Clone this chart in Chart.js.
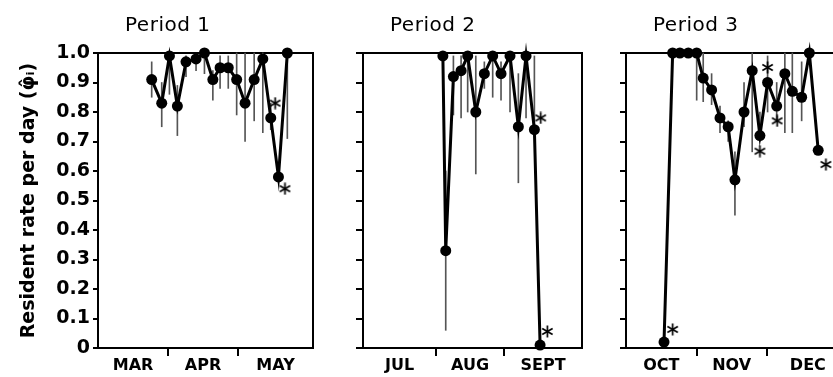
<!DOCTYPE html>
<html>
<head>
<meta charset="utf-8">
<script src="https://cdn.jsdelivr.net/npm/chart.js@4.4.0/dist/chart.umd.min.js"></script>
<style>
  html, body { margin: 0; padding: 0; background: #fff; }
  body { width: 833px; height: 377px; overflow: hidden; position: relative; }
  canvas { position: absolute; top: 0; }
</style>
</head>
<body>
<canvas id="p1" width="330" height="377" style="left:0px"></canvas>
<canvas id="p2" width="262" height="377" style="left:330px"></canvas>
<canvas id="p3" width="270" height="377" style="left:590px"></canvas>
<script>
// y axis, shared by the three panels
var yTicks = [0, 0.1, 0.2, 0.3, 0.4, 0.5, 0.6, 0.7, 0.8, 0.9, 1.0];
var yLabels = ["0", "0.1", "0.2", "0.3", "0.4", "0.5", "0.6", "0.7", "0.8", "0.9", "1.0"];

// Period 1 (days counted from 1 March)
var months1 = ["MAR", "APR", "MAY"];
var days1 = [24, 28.3, 31.6, 35, 38.7, 43, 46.6, 50.2, 53.3, 56.8, 60.4, 64, 67.9, 71.6, 75, 78.3, 82.1];
var rate1 = [0.91, 0.83, 0.99, 0.82, 0.97, 0.98, 1.0, 0.91, 0.95, 0.95, 0.91, 0.83, 0.91, 0.98, 0.78, 0.58, 1.0];
var low1 = [0.85, 0.75, 0.86, 0.72, 0.92, 0.94, 0.93, 0.84, 0.88, 0.88, 0.79, 0.70, 0.77, 0.73, 0.74, null, 0.71];
var high1 = [0.97, 0.90, 1.0, 0.89, 0.99, 0.99, 1.0, 0.94, 0.99, 0.99, 1.0, 1.0, 1.0, 1.0, 0.83, null, 1.0];
var starDays1 = [76.9, 81.1];
var starRate1 = [0.83, 0.54];

// Period 2 (days counted from 1 July)
var months2 = ["JUL", "AUG", "SEPT"];
var days2 = [34.1, 35.4, 38.9, 42.4, 45.4, 49.1, 53.0, 56.8, 60.6, 64.7, 68.5, 72.0, 75.8, 78.4];
var rate2 = [0.99, 0.33, 0.92, 0.94, 0.99, 0.80, 0.93, 0.99, 0.93, 0.99, 0.75, 0.99, 0.74, 0.01];
var low2 = [null, 0.06, 0.79, 0.78, 0.80, 0.59, 0.88, 0.85, 0.84, 0.80, 0.56, 0.78, 0.74, null];
var high2 = [null, 0.60, 0.99, 0.99, 0.99, 0.99, 0.97, 0.99, 0.97, 0.99, 0.93, 0.99, 0.99, null];
var starDays2 = [78.7, 81.7];
var starRate2 = [0.78, 0.056];

// Period 3 (days counted from 1 October)
var months3 = ["OCT", "NOV", "DEC"];
var days3 = [17.0, 20.7, 23.8, 27.4, 31.0, 33.8, 37.4, 41.0, 44.5, 47.4, 51.3, 54.8, 58.1, 61.4, 65.3, 68.8, 72.0, 76.0, 79.3, 83.1];
var rate3 = [0.02, 1.0, 1.0, 1.0, 1.0, 0.915, 0.875, 0.78, 0.75, 0.57, 0.80, 0.94, 0.72, 0.90, 0.82, 0.93, 0.87, 0.85, 1.0, 0.67];
var low3 = [null, null, null, null, 0.84, 0.835, 0.825, 0.73, 0.70, 0.45, 0.75, 0.665, 0.70, 0.80, 0.77, 0.73, 0.73, 0.77, null, null];
var high3 = [null, null, null, null, 0.99, 1.0, 0.93, 0.82, 0.77, 0.665, 0.90, 1.0, 0.80, 0.99, 0.90, 1.0, 1.0, 0.97, null, null];
var starDays3 = [20.7, 58.1, 61.4, 65.5, 86.4];
var starRate3 = [0.063, 0.667, 0.951, 0.77, 0.622];

Chart.defaults.font.family = "'DejaVu Sans', sans-serif";
Chart.defaults.color = "#000";

function noPad(s) {
  s.paddingTop = 0; s.paddingBottom = 0; s.paddingLeft = 0; s.paddingRight = 0;
}

function makeStar() {
  var c = document.createElement("canvas");
  c.width = 13; c.height = 13;
  var g = c.getContext("2d");
  g.strokeStyle = "#000";
  g.lineWidth = 1.7;
  for (var k = 0; k < 3; k++) {
    var a = Math.PI / 2 + k * Math.PI / 3;
    g.beginPath();
    g.moveTo(6.5 + 6 * Math.cos(a), 6.5 - 6 * Math.sin(a));
    g.lineTo(6.5 - 6 * Math.cos(a), 6.5 + 6 * Math.sin(a));
    g.stroke();
  }
  return c;
}
var starImg = makeStar();

var titlePlugin = {
  id: "panelTitle",
  afterDraw: function (chart, args, opts) {
    var ctx = chart.ctx;
    ctx.save();
    ctx.font = "20px 'DejaVu Sans'";
    ctx.letterSpacing = "0.5px";
    ctx.fillStyle = "#000";
    ctx.textBaseline = "alphabetic";
    ctx.fillText(opts.text, chart.chartArea.left + 27, 31);
    ctx.restore();
  }
};

function makePanel(id, p) {
  var edges = [p.xMin].concat(p.bounds).concat([p.xMax]);
  var centers = [];
  for (var i = 0; i < p.months.length; i++) centers.push((edges[i] + edges[i + 1]) / 2);

  var line = p.days.map(function (d, i) { return { x: d, y: p.rate[i] }; });
  var bars = [];
  p.days.forEach(function (d, i) {
    if (p.low[i] != null) bars.push({ x: d, y: [p.low[i], p.high[i]] });
  });
  var stars = p.starDays.map(function (d, i) { return { x: d, y: p.starRate[i] }; });

  return new Chart(document.getElementById(id), {
    type: "line",
    data: {
      datasets: [
        { type: "line", data: line, borderColor: "#000", borderWidth: 3, pointRadius: 5.5, pointHoverRadius: 5.5,
          pointBackgroundColor: "#000", pointBorderWidth: 0, tension: 0, clip: false, order: 1 },
        { type: "bar", data: bars, backgroundColor: "#555", barThickness: 1, clip: false, order: 2 },
        { type: "line", data: stars, showLine: false, pointStyle: starImg, pointRadius: 6, clip: false, order: 0 }
      ]
    },
    options: {
      responsive: false,
      animation: false,
      events: [],
      layout: { padding: { top: 53, right: p.padRight, bottom: 0, left: 0 } },
      plugins: { legend: { display: false }, tooltip: { enabled: false }, panelTitle: { text: p.title } },
      scales: {
        x: {
          type: "linear", position: "bottom", min: p.xMin, max: p.xMax, offset: false, weight: 0, display: true,
          afterBuildTicks: function (s) { s.ticks = p.bounds.map(function (v) { return { value: v }; }); },
          afterFit: function (s) { s.height = 8; noPad(s); },
          ticks: { display: false },
          grid: { drawOnChartArea: false, drawTicks: true, tickLength: 8, color: "#000", lineWidth: 2, offset: false },
          border: { display: true, color: "#000", width: 2 }
        },
        xm: {
          type: "linear", position: "bottom", min: p.xMin, max: p.xMax, offset: false, weight: 1, display: true,
          afterBuildTicks: function (s) { s.ticks = centers.map(function (v) { return { value: v }; }); },
          afterFit: function (s) { s.height = 21; noPad(s); },
          ticks: { autoSkip: false, maxRotation: 0, padding: -8, font: { weight: "bold", size: 16 },
                   callback: function (v, i) { return p.months[i]; } },
          grid: { display: false },
          border: { display: false }
        },
        y: {
          type: "linear", position: "left", min: 0, max: 1, display: true,
          afterBuildTicks: function (s) { s.ticks = yTicks.map(function (v) { return { value: v }; }); },
          afterFit: function (s) { s.width = p.yWidth; noPad(s); },
          ticks: { display: p.showY, padding: 3, font: { weight: "bold", size: 19 },
                   callback: function (v, i) { return yLabels[i]; } },
          grid: { drawOnChartArea: false, drawTicks: true, tickLength: p.tickLen, color: "#000", lineWidth: 2 },
          border: { display: true, color: "#000", width: 2 },
          title: { display: p.showY, text: "Resident rate per day (\u03C6\u0302\u1D62)",
                   font: { weight: "bold", size: 19 }, padding: { top: 18, bottom: 0 } }
        },
        x2: {
          type: "linear", position: "top", min: p.xMin, max: p.xMax, display: true,
          afterFit: function (s) { s.height = 0; noPad(s); },
          ticks: { display: false }, grid: { display: false },
          border: { display: true, color: "#000", width: 2 }
        },
        y2: {
          type: "linear", position: "right", min: 0, max: 1, display: true,
          afterFit: function (s) { s.width = 0; noPad(s); },
          ticks: { display: false }, grid: { display: false },
          border: { display: true, color: "#000", width: 2 }
        }
      }
    },
    plugins: [titlePlugin]
  });
}

makePanel("p1", { title: "Period 1", months: months1, days: days1, rate: rate1, low: low1, high: high1,
  starDays: starDays1, starRate: starRate1, xMin: 1, xMax: 93.1, bounds: [31, 61],
  showY: true, yWidth: 98, tickLen: 5, padRight: 17 });
makePanel("p2", { title: "Period 2", months: months2, days: days2, rate: rate2, low: low2, high: high2,
  starDays: starDays2, starRate: starRate2, xMin: -2.3, xMax: 97.5, bounds: [31, 62],
  showY: false, yWidth: 33, tickLen: 7, padRight: 10 });
makePanel("p3", { title: "Period 3", months: months3, days: days3, rate: rate3, low: low3, high: high3,
  starDays: starDays3, starRate: starRate3, xMin: 0.7, xMax: 96.3, bounds: [31, 61],
  showY: false, yWidth: 36, tickLen: 6, padRight: 11 });
</script>
</body>
</html>
